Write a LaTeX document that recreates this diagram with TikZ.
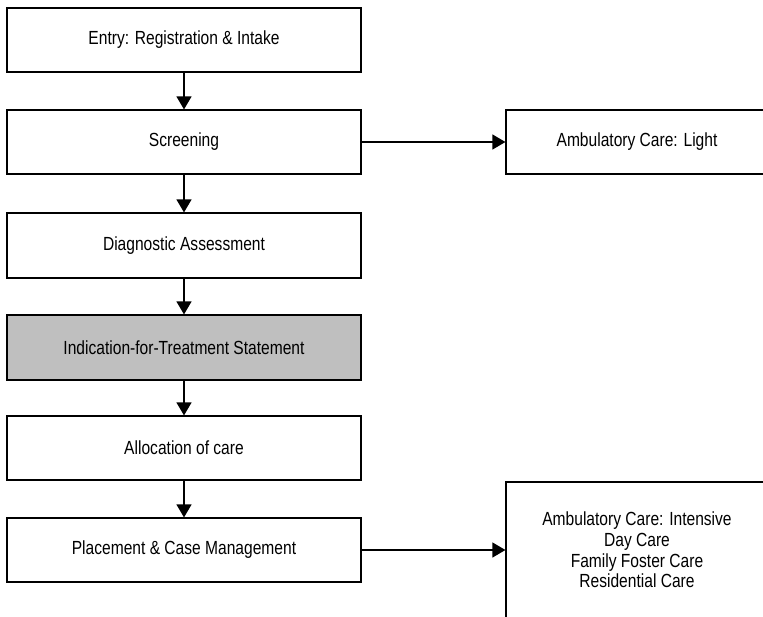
\documentclass[tikz,border=0pt]{standalone}
\usepackage{fontspec}
\setmainfont[FakeStretch=0.82]{Liberation Sans}
\usetikzlibrary{arrows.meta,calc}

\tikzset{
  box/.style={draw, line width=1.2pt, minimum width=354pt, minimum height=64pt,
    font=\fontsize{19}{20.7}\selectfont},
  sidebox/.style={box, minimum width=262pt, align=center},
  flow/.style={line width=1.2pt, -{Triangle[width=15pt,length=13pt]}}
}

\begin{document}
\begin{tikzpicture}[x=1pt,y=-1pt]
  \useasboundingbox (0,0) rectangle (763,616);

  \node[box] (Entry) at (184,40) {Entry: Registration \& Intake};
  \node[box] (Screening) at (184,142) {Screening};
  \node[box, minimum height=65pt] (Diagnostic) at (184,245.5) {Diagnostic Assessment};
  \node[box, minimum height=65pt, fill=black!25] (Indication) at (184,347.5) {Indication-for-Treatment Statement};
  \node[box] (Allocation) at (184,448) {Allocation of care};
  \node[box] (Placement) at (184,550) {Placement \& Case Management};

  \node[sidebox] (LightCare) at (637,142) {Ambulatory Care: Light};
  \node[sidebox, minimum height=136pt] (IntensiveCare) at (637,550)
    {Ambulatory Care: Intensive\\Day Care\\Family Foster Care\\Residential Care};

  \draw[flow] (Entry) -- (Screening);
  \draw[flow] (Screening) -- (Diagnostic);
  \draw[flow] (Diagnostic) -- (Indication);
  \draw[flow] (Indication) -- (Allocation);
  \draw[flow] (Allocation) -- (Placement);

  \draw[flow] (Screening) -- (LightCare);
  \draw[flow] (Placement) -- (IntensiveCare);

\end{tikzpicture}
\end{document}
